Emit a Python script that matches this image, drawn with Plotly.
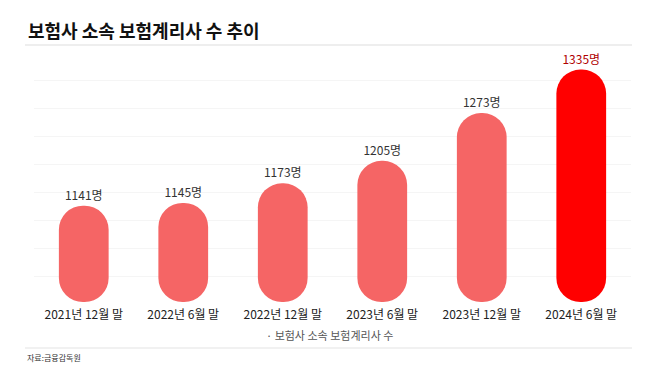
import plotly.graph_objects as go

categories = ["2021년 12월 말", "2022년 6월 말", "2022년 12월 말", "2023년 6월 말", "2023년 12월 말", "2024년 6월 말"]
values = [1141, 1145, 1173, 1205, 1273, 1335]
series_name = "보험사 소속 보험계리사 수"
title_text = "보험사 소속 보험계리사 수 추이"
source_text = "자료:금융감독원"
grid_vals = [1040, 1080, 1120, 1160, 1200, 1240, 1280, 1320]

FONT = "Noto Sans CJK KR"
BASE = 1004
base_color = "#F56565"
hi_color = "#FF0000"
colors = [base_color] * (len(values) - 1) + [hi_color]
label_colors = ["#333333"] * (len(values) - 1) + ["#B00000"]

fig = go.Figure()
fig.add_trace(go.Bar(
    x=categories,
    y=[v - BASE for v in values],
    base=BASE,
    width=0.5,
    marker=dict(color=colors, cornerradius="50%", line=dict(width=0)),
    text=[f"{v}명" for v in values],
    textposition="outside",
    textfont=dict(family=FONT, size=12, color=label_colors),
    cliponaxis=False,
    name=series_name,
    showlegend=False,
    hoverinfo="skip",
))

W = 597.0
H = 250.0
L, T = 34, 52

def px(x):
    return (x - L) / W

def py(y):
    return 1 - (y - T) / H

fig.update_layout(
    width=658, height=369,
    margin=dict(l=34, r=27, t=52, b=67),
    paper_bgcolor="white", plot_bgcolor="white",
    font=dict(family=FONT, color="#222"),
    xaxis=dict(
        showgrid=False, showline=False, zeroline=False,
        tickfont=dict(family=FONT, size=12, color="#222"),
        ticks="", automargin=False, ticklabelstandoff=4,
    ),
    yaxis=dict(
        range=[BASE, 1360], showticklabels=False, zeroline=False,
        showgrid=True, gridcolor="#F5F5F5", gridwidth=1,
        tickvals=grid_vals, automargin=False,
    ),
    annotations=[
        dict(text=f"<b>{title_text}</b>", xref="paper", yref="paper",
             x=px(26), y=py(30), xanchor="left", yanchor="middle",
             showarrow=False, font=dict(family=FONT, size=18, color="#111")),
        dict(text=f"· {series_name}", xref="paper", yref="paper",
             x=px(329), y=py(335), xanchor="center", yanchor="middle",
             showarrow=False, font=dict(family=FONT, size=11, color="#555")),
        dict(text=source_text, xref="paper", yref="paper",
             x=px(25), y=py(357), xanchor="left", yanchor="middle",
             showarrow=False, font=dict(family=FONT, size=8, color="#333")),
    ],
    shapes=[
        dict(type="line", xref="paper", yref="paper",
             x0=px(25), x1=px(632), y0=py(45), y1=py(45),
             line=dict(color="#E8E8E8", width=1.5)),
        dict(type="line", xref="paper", yref="paper",
             x0=px(25), x1=px(632), y0=py(348), y1=py(348),
             line=dict(color="#ECECEC", width=1.5)),
    ],
)

fig.write_html("out.html", config={"displayModeBar": False},
               post_script="document.body.style.margin='0';document.body.style.padding='0';")
